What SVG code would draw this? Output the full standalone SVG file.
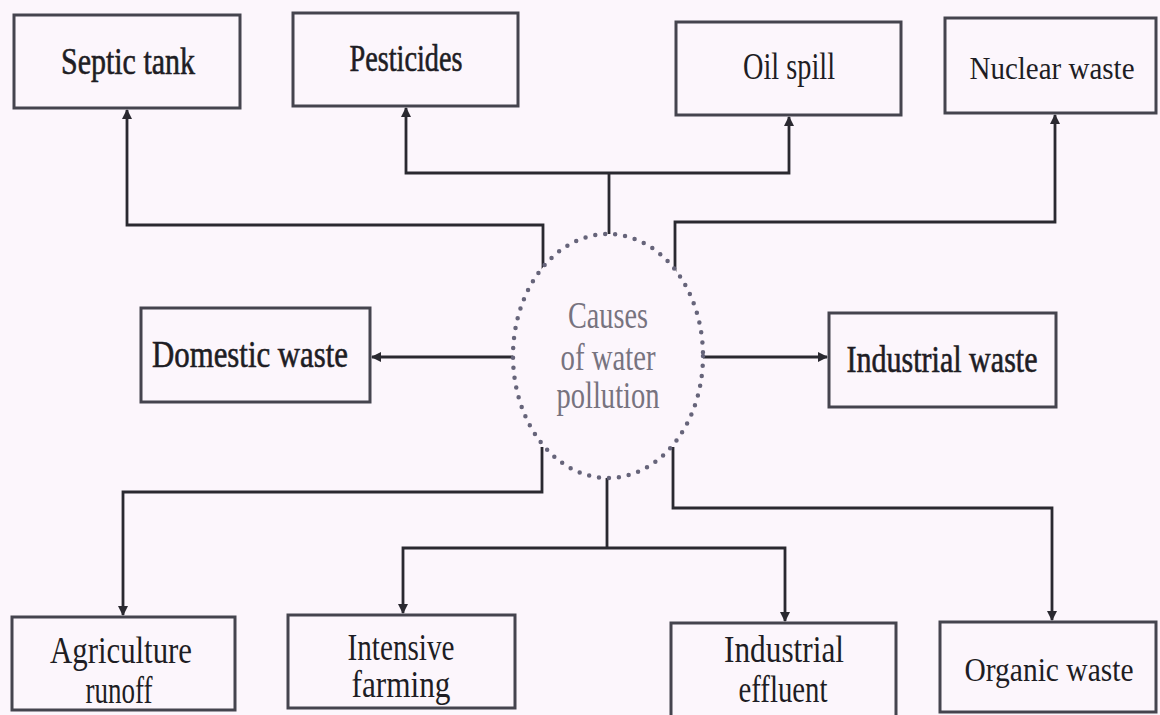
<svg xmlns="http://www.w3.org/2000/svg" width="1160" height="715" viewBox="0 0 1160 715">
<style>
.bg{fill:#fcf6fc}
.box{fill:#fcf6fc;stroke:#45444e;stroke-width:3}
.lbl{font-family:"Liberation Serif","Times New Roman",serif;font-size:37px;fill:#1e1d24;text-anchor:middle}
.sm{font-size:34px}
.xs{font-size:32px}
.bold{stroke:#1e1d24;stroke-width:0.6}
.ctr{font-family:"Liberation Serif","Times New Roman",serif;font-size:37px;fill:#77737f;text-anchor:middle}
.conn{fill:none;stroke:#2a2930;stroke-width:2.8}
.dots{fill:none;stroke:#66647a;stroke-width:4.5;stroke-linecap:round;stroke-dasharray:0 10}
</style>
<defs>
<marker id="ah" viewBox="0 0 10 10" refX="9" refY="5" markerWidth="3.6" markerHeight="3.6" orient="auto" markerUnits="strokeWidth">
<path d="M0,0 L10,5 L0,10 z" fill="#2a2930"/>
</marker>
</defs>
<rect class="bg" x="0" y="0" width="1160" height="715"/>

<g id="connectors">
<path class="conn" d="M543,270 V225 H127 V110" marker-end="url(#ah)"/>
<path class="conn" d="M609,234 V173"/>
<path class="conn" d="M609,173 H406 V108" marker-end="url(#ah)"/>
<path class="conn" d="M609,173 H789 V117" marker-end="url(#ah)"/>
<path class="conn" d="M675,272 V222 H1055 V115" marker-end="url(#ah)"/>
<path class="conn" d="M513,357 H372" marker-end="url(#ah)"/>
<path class="conn" d="M703,357 H827" marker-end="url(#ah)"/>
<path class="conn" d="M542,447 V492 H123 V615" marker-end="url(#ah)"/>
<path class="conn" d="M607,478 V548"/>
<path class="conn" d="M607,548 H403 V613" marker-end="url(#ah)"/>
<path class="conn" d="M607,548 H785 V621" marker-end="url(#ah)"/>
<path class="conn" d="M673,447 V508 H1052 V620" marker-end="url(#ah)"/>
</g>

<g id="center">
<ellipse cx="608" cy="356" rx="95" ry="122" fill="#fcf6fc"/>
<ellipse class="dots" cx="608" cy="356" rx="95" ry="122"/>
<text class="ctr" x="608" y="328" textLength="80" lengthAdjust="spacingAndGlyphs">Causes</text>
<text class="ctr" x="608" y="370" textLength="95" lengthAdjust="spacingAndGlyphs">of water</text>
<text class="ctr" x="608" y="408" textLength="103" lengthAdjust="spacingAndGlyphs">pollution</text>
</g>

<g id="septic-tank">
<rect class="box" x="14" y="15" width="226" height="93"/>
<text class="lbl bold" x="128" y="74" textLength="134" lengthAdjust="spacingAndGlyphs">Septic tank</text>
</g>
<g id="pesticides">
<rect class="box" x="293" y="13" width="225" height="93"/>
<text class="lbl bold" x="406" y="71" textLength="113" lengthAdjust="spacingAndGlyphs">Pesticides</text>
</g>
<g id="oil-spill">
<rect class="box" x="676" y="22" width="225" height="93"/>
<text class="lbl" x="789" y="79" textLength="92" lengthAdjust="spacingAndGlyphs">Oil spill</text>
</g>
<g id="nuclear-waste">
<rect class="box" x="945" y="18" width="211" height="95"/>
<text class="lbl xs" x="1052" y="79" textLength="165" lengthAdjust="spacingAndGlyphs">Nuclear waste</text>
</g>
<g id="domestic-waste">
<rect class="box" x="141" y="308" width="229" height="94"/>
<text class="lbl bold" x="250" y="367" textLength="196" lengthAdjust="spacingAndGlyphs">Domestic waste</text>
</g>
<g id="industrial-waste">
<rect class="box" x="829" y="313" width="227" height="94"/>
<text class="lbl bold" x="942" y="372" textLength="191" lengthAdjust="spacingAndGlyphs">Industrial waste</text>
</g>
<g id="agriculture-runoff">
<rect class="box" x="12" y="617" width="223" height="93"/>
<text class="lbl" x="121" y="663" textLength="142" lengthAdjust="spacingAndGlyphs">Agriculture</text>
<text class="lbl" x="119" y="703" textLength="67" lengthAdjust="spacingAndGlyphs">runoff</text>
</g>
<g id="intensive-farming">
<rect class="box" x="288" y="615" width="227" height="93"/>
<text class="lbl" x="401" y="660" textLength="107" lengthAdjust="spacingAndGlyphs">Intensive</text>
<text class="lbl" x="401" y="697" textLength="99" lengthAdjust="spacingAndGlyphs">farming</text>
</g>
<g id="industrial-effluent">
<rect class="box" x="671" y="623" width="225" height="96"/>
<text class="lbl" x="784" y="662" textLength="120" lengthAdjust="spacingAndGlyphs">Industrial</text>
<text class="lbl" x="783" y="702" textLength="89" lengthAdjust="spacingAndGlyphs">effluent</text>
</g>
<g id="organic-waste">
<rect class="box" x="940" y="622" width="216" height="90"/>
<text class="lbl sm" x="1049" y="681" textLength="169" lengthAdjust="spacingAndGlyphs">Organic waste</text>
</g>
</svg>
